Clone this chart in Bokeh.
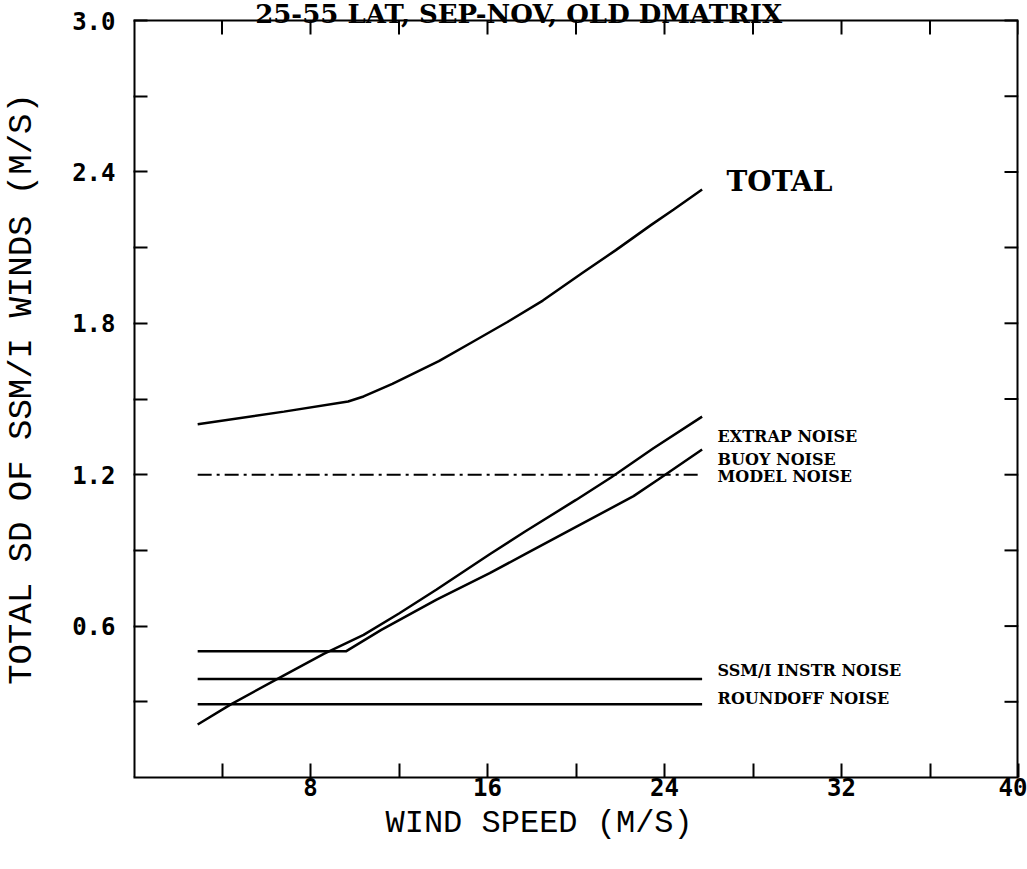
from bokeh.plotting import figure
from bokeh.models import FixedTicker, Range1d, Label, PrintfTickFormatter, Title
from bokeh.embed import file_html
from bokeh.resources import INLINE

# Wind speed (m/s) and standard deviation (m/s) of each error component
total_x = [2.9, 6.8, 9.7, 10.4, 11.7, 13.8, 15.3, 16.9, 18.5, 20.3, 21.8, 23.4, 24.4, 25.7]
total_y = [1.40, 1.45, 1.49, 1.51, 1.56, 1.65, 1.725, 1.805, 1.89, 2.00, 2.09, 2.19, 2.25, 2.33]

extrap_x = [2.9, 4.4, 6.8, 8.6, 10.4, 12.0, 13.7, 16.1, 17.7, 20.0, 21.6, 23.5, 25.7]
extrap_y = [0.21, 0.29, 0.405, 0.49, 0.565, 0.65, 0.745, 0.885, 0.975, 1.10, 1.19, 1.305, 1.43]

buoy_x = [2.9, 9.6, 11.2, 13.7, 16.1, 17.7, 20.15, 22.6, 23.7, 25.7]
buoy_y = [0.50, 0.50, 0.585, 0.705, 0.81, 0.885, 1.00, 1.115, 1.18, 1.30]

flat_x = [2.9, 25.7]
model_y = [1.20, 1.20]
instr_y = [0.39, 0.39]
roundoff_y = [0.29, 0.29]

x_ticks = [8, 16, 24, 32, 40]
x_minor = [4, 12, 20, 28, 36]
y_ticks = [0.6, 1.2, 1.8, 2.4, 3.0]
y_minor = [0.3, 0.9, 1.5, 2.1, 2.7]

title_text = "25-55 LAT, SEP-NOV, OLD DMATRIX"
x_title = "WIND SPEED (M/S)"
y_title = "TOTAL SD OF SSM/I WINDS (M/S)"
curve_labels = ["EXTRAP NOISE", "BUOY NOISE", "MODEL NOISE", "SSM/I INSTR NOISE", "ROUNDOFF NOISE"]
curve_label_y = [1.35, 1.262, 1.192, 0.425, 0.315]

TICK_FONT = "DejaVu Sans Mono"
LABEL_FONT = "Liberation Mono"
TEXT_FONT = "DejaVu Serif"

X_MAX, Y_MAX = 40, 3.0
PX_PER_X = 885 / X_MAX      # horizontal scale of the box, px per m/s
PX_PER_Y = 757 / Y_MAX      # vertical scale of the box, px per m/s
HEADROOM = 20               # px above the box that holds the title
TICK_LEN = 14               # px, ticks point into the box

p = figure(width=1027, height=869, output_backend="svg", toolbar_location=None,
           x_range=Range1d(0, X_MAX), y_range=Range1d(0, Y_MAX + HEADROOM / PX_PER_Y),
           min_border_left=133, min_border_right=9, min_border_top=0, min_border_bottom=92)
p.xgrid.visible = False
p.ygrid.visible = False
p.background_fill_color = "white"
p.border_fill_color = "white"
p.outline_line_color = None


def style_axis(ax):
    ax.major_tick_in = TICK_LEN
    ax.major_tick_out = 0
    ax.minor_tick_in = TICK_LEN
    ax.minor_tick_out = 0
    ax.major_tick_line_width = 2
    ax.minor_tick_line_width = 2
    ax.major_tick_line_color = "black"
    ax.minor_tick_line_color = "black"
    ax.major_label_text_font = TICK_FONT
    ax.major_label_text_font_style = "bold"
    ax.major_label_text_font_size = "24px"
    ax.major_label_text_color = "black"


xb = p.xaxis[0]
xb.ticker = FixedTicker(ticks=x_ticks, minor_ticks=x_minor)
style_axis(xb)
xb.axis_line_color = "black"
xb.axis_line_width = 2
xb.major_label_standoff = 0

yl = p.yaxis[0]
yl.ticker = FixedTicker(ticks=y_ticks, minor_ticks=y_minor)
yl.formatter = PrintfTickFormatter(format="%.1f")
style_axis(yl)
yl.axis_line_color = None
yl.major_label_standoff = 18
yl.axis_label = y_title
yl.axis_label_text_font = LABEL_FONT
yl.axis_label_text_font_size = "34px"
yl.axis_label_text_font_style = "normal"
yl.axis_label_text_color = "black"
yl.axis_label_standoff = 28

# x-axis title as a panel below, shifted along the box
p.add_layout(Title(text=x_title, align="left", offset=252, standoff=8,
                   text_font=LABEL_FONT, text_font_size="32px", text_font_style="normal",
                   text_color="black"), "below")

# Box: left, right and top edges (the bottom edge is the x-axis line)
p.segment(x0=[0, X_MAX], y0=[0, 0], x1=[0, X_MAX], y1=[Y_MAX, Y_MAX],
          line_color="black", line_width=4)
p.segment(x0=[0], y0=[Y_MAX], x1=[X_MAX], y1=[Y_MAX], line_color="black", line_width=2)

# Inward ticks along the top and right edges of the box
top_ticks = x_ticks + x_minor
right_ticks = y_ticks + y_minor
dy_tick = TICK_LEN / PX_PER_Y
dx_tick = TICK_LEN / PX_PER_X
p.segment(x0=top_ticks, y0=[Y_MAX] * len(top_ticks), x1=top_ticks,
          y1=[Y_MAX - dy_tick] * len(top_ticks), line_color="black", line_width=2)
p.segment(x0=[X_MAX] * len(right_ticks), y0=right_ticks, x1=[X_MAX - dx_tick] * len(right_ticks),
          y1=right_ticks, line_color="black", line_width=2)

# Curves
p.line(total_x, total_y, line_color="black", line_width=2.5)
p.line(extrap_x, extrap_y, line_color="black", line_width=2.5)
p.line(buoy_x, buoy_y, line_color="black", line_width=2.5)
p.line(flat_x, model_y, line_color="black", line_width=2, line_dash="14 5 3 5")
p.line(flat_x, instr_y, line_color="black", line_width=2.5)
p.line(flat_x, roundoff_y, line_color="black", line_width=2.5)

# Curve labels
p.add_layout(Label(x=26.8, y=2.36, text="TOTAL", text_font=TEXT_FONT, text_font_style="bold",
                   text_font_size="28px", text_baseline="middle", text_color="black"))
for txt, yy in zip(curve_labels, curve_label_y):
    p.add_layout(Label(x=26.4, y=yy, text=txt, text_font=TEXT_FONT, text_font_style="bold",
                       text_font_size="16px", text_baseline="middle", text_color="black"))

# Title in the strip above the box, running off the top edge of the page
p.add_layout(Label(x=5.5, y=Y_MAX + 7 / PX_PER_Y, text=title_text, text_font=TEXT_FONT,
                   text_font_style="bold", text_font_size="26px", text_align="left",
                   text_baseline="alphabetic", text_color="black"))

open("out.html", "w").write(file_html(p, INLINE))
